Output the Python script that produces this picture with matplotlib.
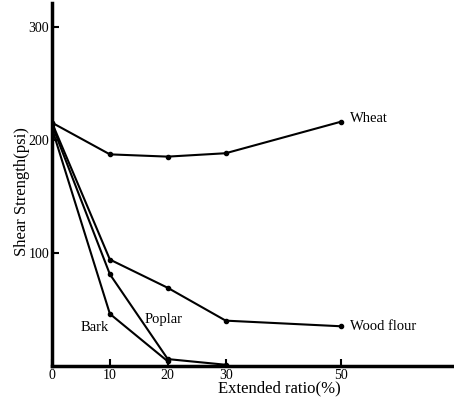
import matplotlib.pyplot as plt

ratio = [0, 10, 20, 30, 50]
wheat = [215, 187, 185, 188, 216]
wood_flour = [215, 94, 69, 40, 35]
poplar_x = [0, 10, 20, 30]
poplar = [213, 81, 6, 1]
bark_x = [0, 10, 20]
bark = [210, 46, 4]

x_ticks = [0, 10, 20, 30, 50]
y_ticks = [100, 200, 300]

plt.rcParams["font.family"] = ["Liberation Serif", "DejaVu Serif"]

fig = plt.figure(figsize=(4.54, 3.99), dpi=100)
ax = fig.add_axes([0.1145, 0.083, 0.88, 0.91])

kw = dict(color="black", lw=1.5, marker="o", ms=3)
ax.plot(ratio, wheat, **kw)
ax.plot(ratio, wood_flour, **kw)
ax.plot(poplar_x, poplar, **kw)
ax.plot(bark_x, bark, **kw)

ax.text(51.5, 219, "Wheat", fontsize=10.5, va="center")
ax.text(51.5, 35, "Wood flour", fontsize=10.5, va="center")
ax.text(16, 41, "Poplar", fontsize=10.5, va="center")
ax.text(5, 34, "Bark", fontsize=10.5, va="center")

ax.set_xlim(0, 69)
ax.set_ylim(0, 321)
ax.set_xticks(x_ticks)
ax.set_yticks(y_ticks)
ax.tick_params(direction="in", length=5, width=1.5, labelsize=10, pad=2)

for s in ["top", "right"]:
    ax.spines[s].set_visible(False)
for s in ["left", "bottom"]:
    ax.spines[s].set_linewidth(2.5)

ax.set_xlabel("Extended ratio(%)", fontsize=12, labelpad=-1, x=0.57)
ax.set_ylabel("Shear Strength(psi)", fontsize=12, labelpad=-1, y=0.48)

fig.savefig("out.png", dpi=100)
